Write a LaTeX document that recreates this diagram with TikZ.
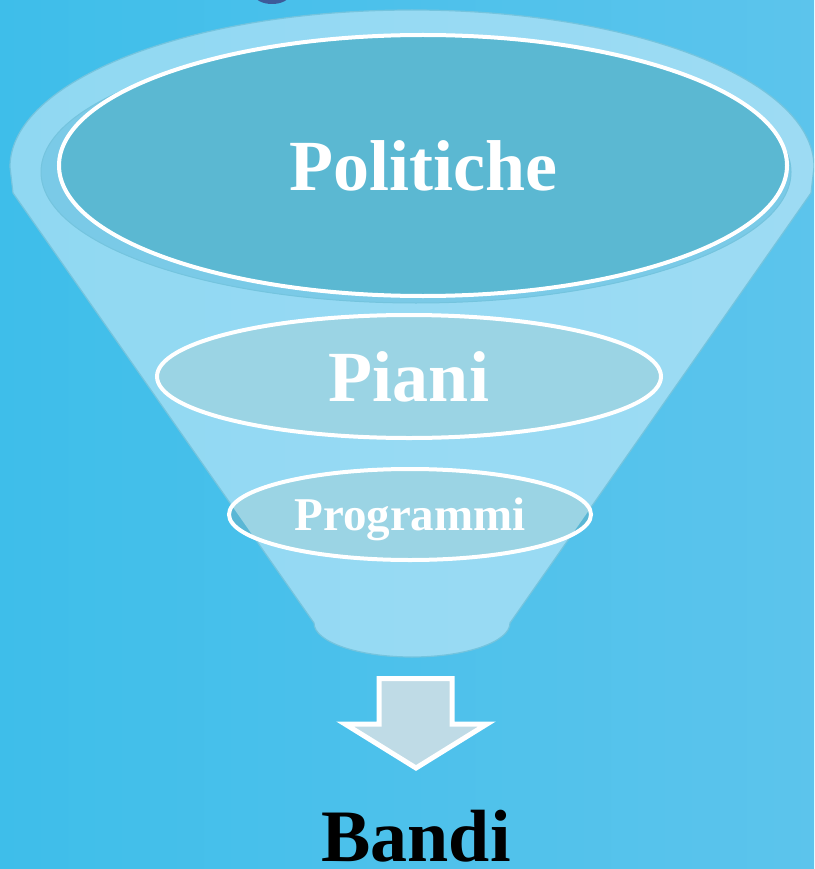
\documentclass[tikz,border=0pt]{standalone}
\usepackage{fontspec}
\setmainfont{Liberation Serif}
\usetikzlibrary{shapes.geometric}
\definecolor{bgleft}{RGB}{62,190,234}
\definecolor{bgright}{RGB}{92,196,236}
\definecolor{funnelfill}{RGB}{212,239,250}
\definecolor{funneledge}{RGB}{116,196,222}
\definecolor{polfill}{RGB}{91,184,210}
\definecolor{polshadow}{RGB}{122,202,231}
\definecolor{pianifill}{RGB}{155,212,228}
\definecolor{progfill}{RGB}{90,183,213}
\definecolor{arrowfill}{RGB}{191,219,230}
\definecolor{titleblue}{RGB}{61,90,153}
\newcommand{\bigsize}{\fontsize{72}{80}\selectfont}
\newcommand{\funnelpath}{(fa) -- (fb) arc[start angle=180,end angle=0,x radius=98,y radius=34]
    -- (fc) -- (fd) arc[start angle=0,end angle=-180,x radius=402,y radius=157] -- cycle}
\tikzset{
  level/.style={ellipse,draw=white,line width=4pt,text=white,font=\bfseries\bigsize},
}

\begin{document}
\begin{tikzpicture}[x=1pt,y=-1pt]
  \useasboundingbox (0,0) rectangle (814,869);
  \clip (0,0) rectangle (814,869);
  \shade[left color=bgleft,right color=bgright] (0,0) rectangle (814,869);
  % end of the title above
  \fill[titleblue] (272,-6) ellipse [x radius=18,y radius=10];
  % funnel
  \coordinate (fa) at (13,193);
  \coordinate (fb) at (314,623);
  \coordinate (fc) at (811,193);
  \coordinate (fd) at (814,167);
  \filldraw[fill=funnelfill,fill opacity=0.55,draw=funneledge,line width=1.2pt] \funnelpath;
  \filldraw[fill=polshadow,draw=funneledge,line width=1pt] (416,172) ellipse [x radius=375,y radius=131];
  \node[level,fill=polfill,minimum width=728pt,minimum height=261pt] (politiche) at (423,165.5) {Politiche};
  \node[level,fill=pianifill,minimum width=504pt,minimum height=123pt] (piani) at (409,376.5) {Piani};
  \node[level,fill=progfill,minimum width=362pt,minimum height=91pt,text depth=0pt,
        font=\bfseries\fontsize{47}{52}\selectfont,
        path picture={\fill[pianifill] \funnelpath;}] (programmi) at (410,514.5) {Programmi};
  % arrow down
  \filldraw[fill=arrowfill,draw=white,line width=5pt]
    (379,678.5) -- (452,678.5) -- (452,724) -- (487,724) -- (416,768)
    -- (345,724) -- (379,724) -- cycle;
  \node[anchor=base,font=\bfseries\fontsize{74}{80}\selectfont] (bandi) at (416,861) {Bandi};
\end{tikzpicture}
\end{document}
